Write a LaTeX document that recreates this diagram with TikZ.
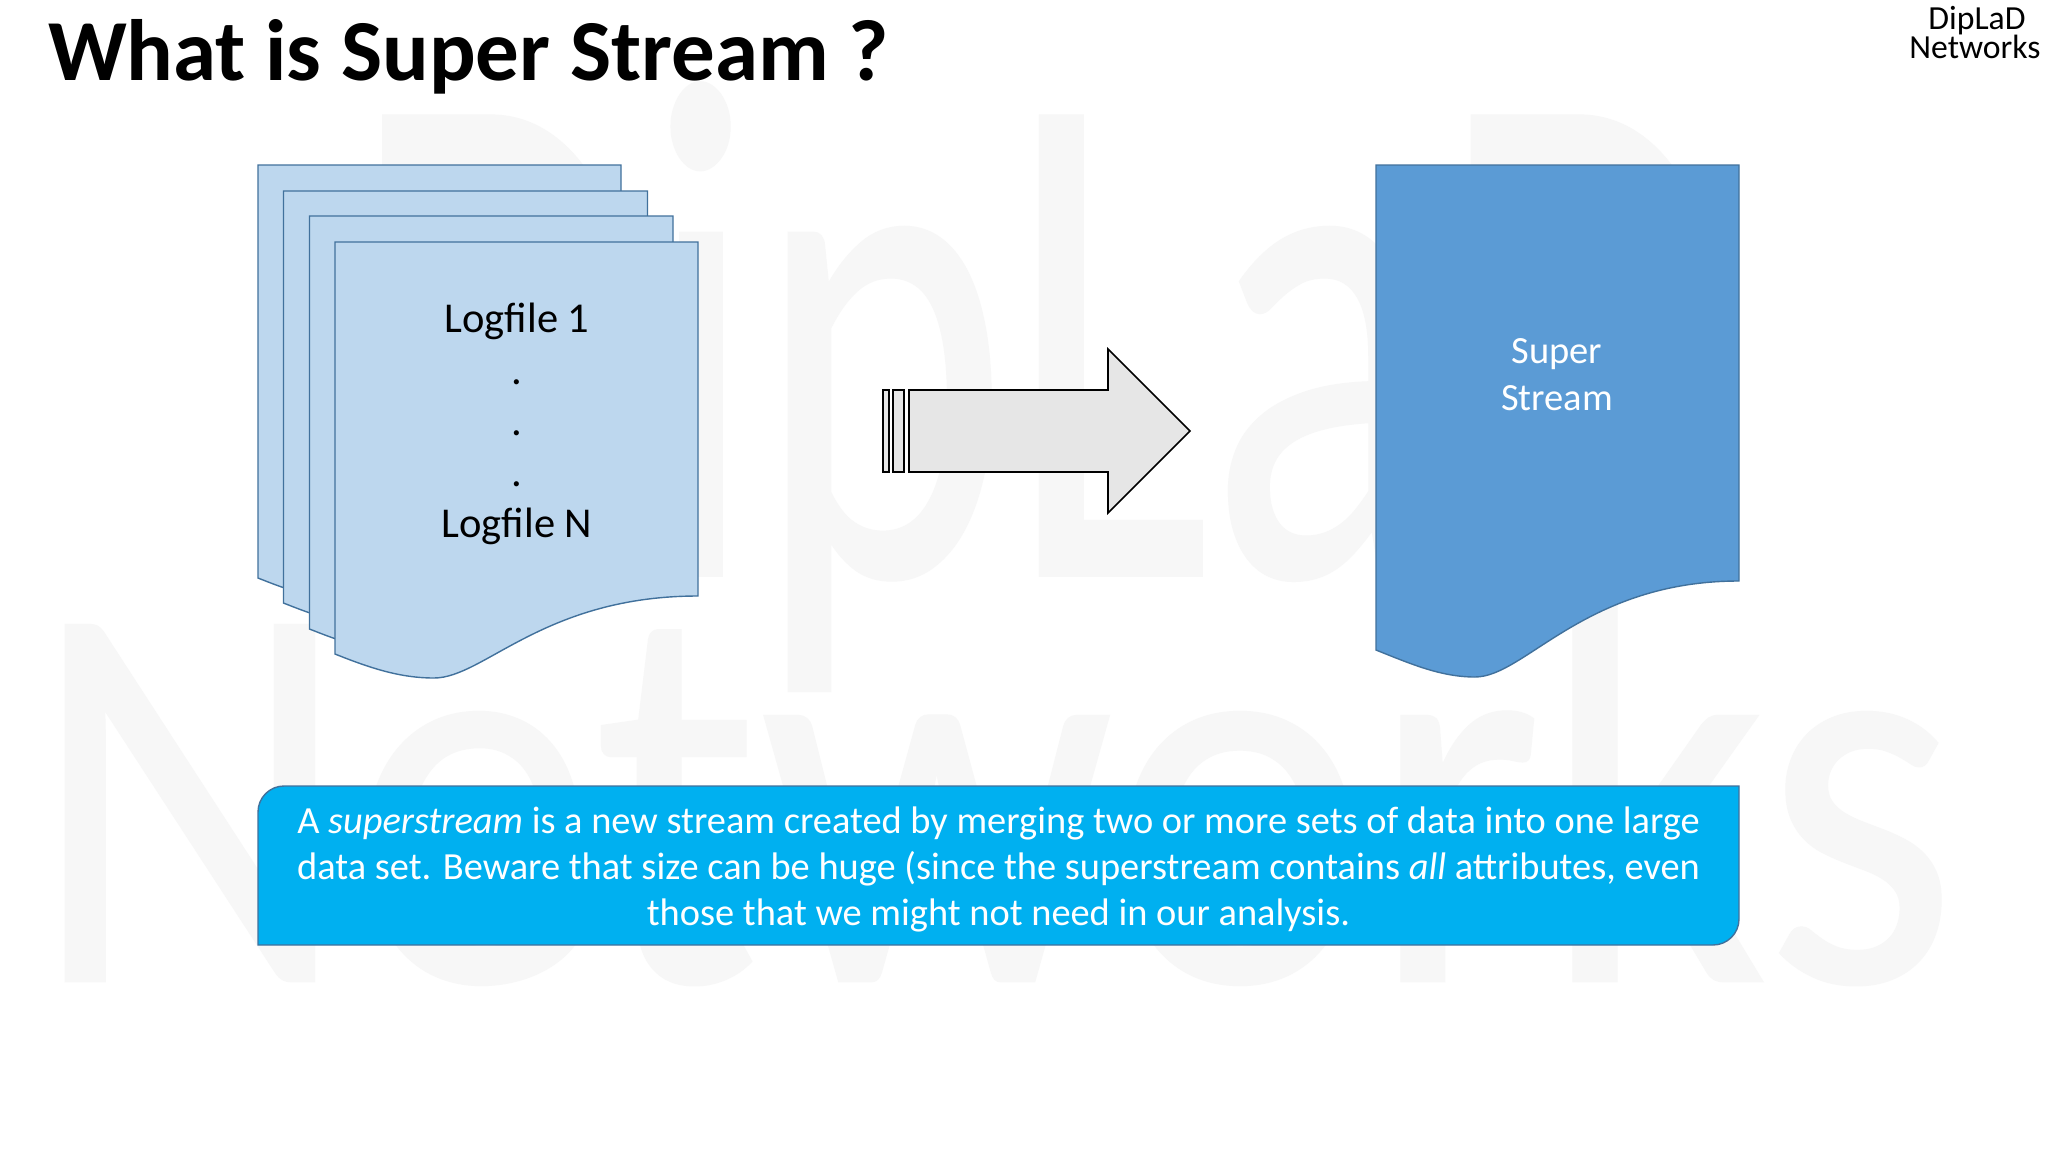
\documentclass[tikz,border=0pt]{standalone}
\usepackage{fontspec}
\setmainfont{Carlito}
\newfontfamily\wmfont[FakeBold=0.5]{Carlito}
\definecolor{docLight}{HTML}{BDD7EE}
\definecolor{docDark}{HTML}{5B9BD5}
\definecolor{edgeBlue}{HTML}{41719C}
\definecolor{noteBlue}{HTML}{00B0F0}
\definecolor{arrowGrey}{HTML}{E6E6E6}
\definecolor{markGrey}{HTML}{F7F7F7}
\newcommand{\fs}[1]{\fontsize{#1}{#1}\selectfont}
% x, top, width, left bottom, low point, right bottom
\newcommand{\docpath}[6]{(#1,#2) -- (#1+#3,#2) -- (#1+#3,#6)
  .. controls (#1+#3-154,#6) and (#1+#3-214,#5) .. (#1+99,#5)
  .. controls (#1+65,#5) and (#1+35,#4+14) .. (#1,#4) -- cycle}
\tikzset{
  lightdoc/.style={draw=edgeBlue,fill=docLight,line width=1.4pt},
  darkdoc/.style={draw=edgeBlue,fill=docDark,line width=1.4pt},
  blockarrow/.style={draw=black,fill=arrowGrey,line width=1.6pt,line join=miter},
  notebox/.style={draw=edgeBlue,fill=noteBlue,line width=1.4pt},
  txt/.style={anchor=base,inner sep=0pt,outer sep=0pt},
  doctext/.style={txt,font=\fs{42.5}},
  sstext/.style={txt,text=white,font=\fs{38.5}},
  notetext/.style={txt,text=white,font=\fs{38.4}},
  logotext/.style={txt,font=\fs{33.7}},
}
\begin{document}
\begin{tikzpicture}[x=1pt,y=-1pt]
\useasboundingbox (0,0) rectangle (2048,1152);
\fill[white] (0,0) rectangle (2048,1152);
% watermark
\node[txt,text=markGrey,font=\wmfont\fs{480}] (wmone) at (1043,575) {\scalebox{1}[1.49]{DipLaD}};
\node[txt,text=markGrey,font=\wmfont\fs{495}] (wmtwo) at (993,981) {\scalebox{1}[1.12]{Networks}};
% title and logo
\node[txt,anchor=base west,font=\bfseries\fs{87}] (title) at (48,80) {What is Super Stream ?};
\node[logotext] (logoa) at (1977,29) {DipLaD};
\node[logotext] (logob) at (1975,58) {Networks};
% document stack
\draw[lightdoc] \docpath{258}{165}{363}{578}{602}{520};
\draw[lightdoc] \docpath{283.5}{191}{364}{603}{627}{545};
\draw[lightdoc] \docpath{309.5}{216}{363.5}{629}{653}{571};
\draw[lightdoc] \docpath{335}{242}{363}{654}{678}{596};
\node[doctext] (lfone) at (517,332) {Logfile 1};
\node[doctext] (dota) at (517,384) {.};
\node[doctext] (dotb) at (517,435) {.};
\node[doctext] (dotc) at (517,486) {.};
\node[doctext] (lfn) at (517,537) {Logfile N};
% block arrow
\draw[blockarrow] (883,390) rectangle (889,472);
\draw[blockarrow] (893,390) rectangle (904,472);
\draw[blockarrow] (909,390) -- (1108,390) -- (1108,349) -- (1190,431) -- (1108,513) -- (1108,472) -- (909,472) -- cycle;
% super stream
\draw[darkdoc] \docpath{1376}{165}{363}{650}{677}{581};
\node[sstext] (supa) at (1557,363) {Super};
\node[sstext] (supb) at (1557,410) {Stream};
% note
\draw[notebox] (284,786) -- (1739,786) -- (1739,919) arc[start angle=0,end angle=90,radius=26] -- (258,945) -- (258,812) arc[start angle=180,end angle=270,radius=26] -- cycle;
\node[notetext] (notea) at (998.5,833.5) {A \textit{superstream} is a new stream created by merging two or more sets of data into one large};
\node[notetext] (noteb) at (998.5,879.5) {data set. Beware that size can be huge (since the superstream contains \textit{all} attributes, even};
\node[notetext] (notec) at (998.5,925.5) {those that we might not need in our analysis.};
\end{tikzpicture}
\end{document}
